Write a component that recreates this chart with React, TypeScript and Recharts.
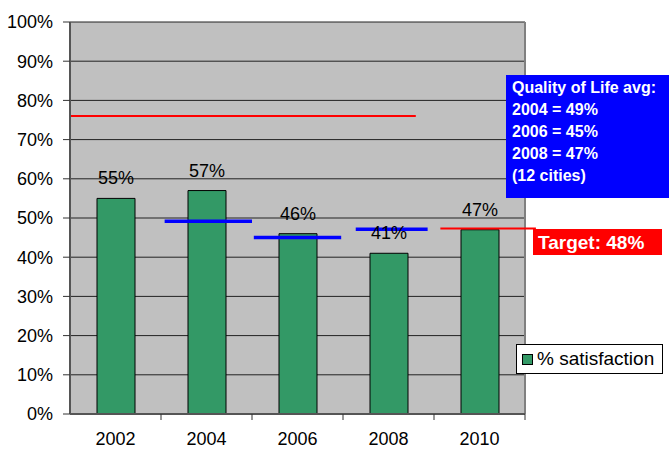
import React from 'react';
import { ComposedChart, Bar, XAxis, YAxis, CartesianGrid, ReferenceLine, LabelList } from 'recharts';

const categories = ['2002', '2004', '2006', '2008', '2010'];
const satisfaction = [55, 57, 46, 41, 47];
const yTicks = [0, 10, 20, 30, 40, 50, 60, 70, 80, 90, 100];
const qolAvg = [
  { label: '2004', value: 49.2, from: 1.04, to: 2.0 },
  { label: '2006', value: 45.0, from: 2.02, to: 2.98 },
  { label: '2008', value: 47.1, from: 3.14, to: 3.93 },
];
const topLine = { value: 76, from: 0, to: 3.8 };
const target = { value: 47.3, from: 4.07, to: 5.12 };
const infoLines = ['Quality of Life avg:', '2004 = 49%', '2006 = 45%', '2008 = 47%', '(12 cities)'];
const targetLabel = 'Target: 48%';
const seriesName = '% satisfaction';

const data = categories.map((c, i) => ({ x: i + 0.5, cat: c, v: satisfaction[i] }));
const xTicks = [0, 0.5, 1, 1.5, 2, 2.5, 3, 3.5, 4, 4.5, 5];

const FONT = '"Liberation Sans", Arial, sans-serif';

const XTick = (props: any) => {
  const { x, y, payload } = props;
  const v = payload.value;
  if (Number.isInteger(v)) {
    if (v === 0) return <g />;
    return <line x1={x} x2={x} y1={y} y2={y + 6} stroke="#333" strokeWidth={1} />;
  }
  const idx = Math.floor(v);
  return (
    <text x={x} y={y + 31} textAnchor="middle" fontSize={18} fill="#000" fontFamily={FONT}>
      {categories[idx]}
    </text>
  );
};

export default function App() {
  return (
    <div style={{ position: 'absolute', left: 0, top: 0, width: 669, height: 450, background: '#fff', fontFamily: FONT }}>
      <ComposedChart width={669} height={450} data={data} margin={{ top: 22, right: 144, bottom: 0, left: 0 }}>
        <CartesianGrid vertical={false} horizontal={true} stroke="#222" strokeWidth={1} fill="#C0C0C0" fillOpacity={1} />
        <XAxis
          dataKey="x"
          type="number"
          domain={[0, 5]}
          ticks={xTicks}
          interval={0}
          height={36}
          tickLine={false}
          tickSize={0}
          tickMargin={0}
          tick={<XTick />}
          axisLine={{ stroke: '#555', strokeWidth: 2 }}
        />
        <YAxis
          type="number"
          domain={[0, 100]}
          ticks={yTicks}
          interval={0}
          width={70}
          tickFormatter={(v: number) => `${v}%`}
          tick={{ fontSize: 18, fill: '#000', fontFamily: FONT }}
          tickLine={{ stroke: '#333' }}
          tickSize={7}
          tickMargin={10}
          axisLine={{ stroke: '#555', strokeWidth: 2 }}
        />
        <ReferenceLine x={5} stroke="#808080" strokeWidth={2} />
        <Bar dataKey="v" name={seriesName} fill="#339966" stroke="#000" strokeWidth={1} barSize={38} isAnimationActive={false}>
          <LabelList dataKey="v" position="top" offset={14} formatter={(v: any) => `${v}%`} fill="#000" fontSize={18} fontFamily={FONT} />
        </Bar>
        <ReferenceLine segment={[{ x: topLine.from, y: topLine.value }, { x: topLine.to, y: topLine.value }]} stroke="#FF0000" strokeWidth={2} />
        {qolAvg.map((q) => (
          <ReferenceLine key={q.label} segment={[{ x: q.from, y: q.value }, { x: q.to, y: q.value }]} stroke="#0000FF" strokeWidth={3.5} />
        ))}
        <ReferenceLine ifOverflow="visible" segment={[{ x: target.from, y: target.value }, { x: target.to, y: target.value }]} stroke="#FF0000" strokeWidth={2} />
      </ComposedChart>
      <div style={{ position: 'absolute', left: 516, top: 344, width: 147, height: 30, border: '1px solid #000', background: '#fff', display: 'flex', alignItems: 'center', fontFamily: FONT, fontSize: 19, color: '#000', boxSizing: 'border-box', whiteSpace: 'nowrap' }}>
        <span style={{ display: 'inline-block', width: 9, height: 9, background: '#339966', border: '1px solid #000', marginLeft: 5, marginRight: 4, flexShrink: 0 }} />
        <span>{seriesName}</span>
      </div>
      <div style={{ position: 'absolute', left: 506, top: 75, width: 163, height: 123, background: '#0000FF', color: '#fff', fontWeight: 'bold', fontSize: 16, fontFamily: FONT, paddingLeft: 6, paddingTop: 2, boxSizing: 'border-box', lineHeight: '22px', whiteSpace: 'nowrap', overflow: 'hidden' }}>
        {infoLines.map((l) => (
          <div key={l}>{l}</div>
        ))}
      </div>
      <div style={{ position: 'absolute', left: 533, top: 229, width: 129, height: 26, background: '#FF0000', color: '#fff', fontWeight: 'bold', fontSize: 19, fontFamily: FONT, paddingLeft: 5, boxSizing: 'border-box', lineHeight: '27px', whiteSpace: 'nowrap' }}>
        {targetLabel}
      </div>
    </div>
  );
}
